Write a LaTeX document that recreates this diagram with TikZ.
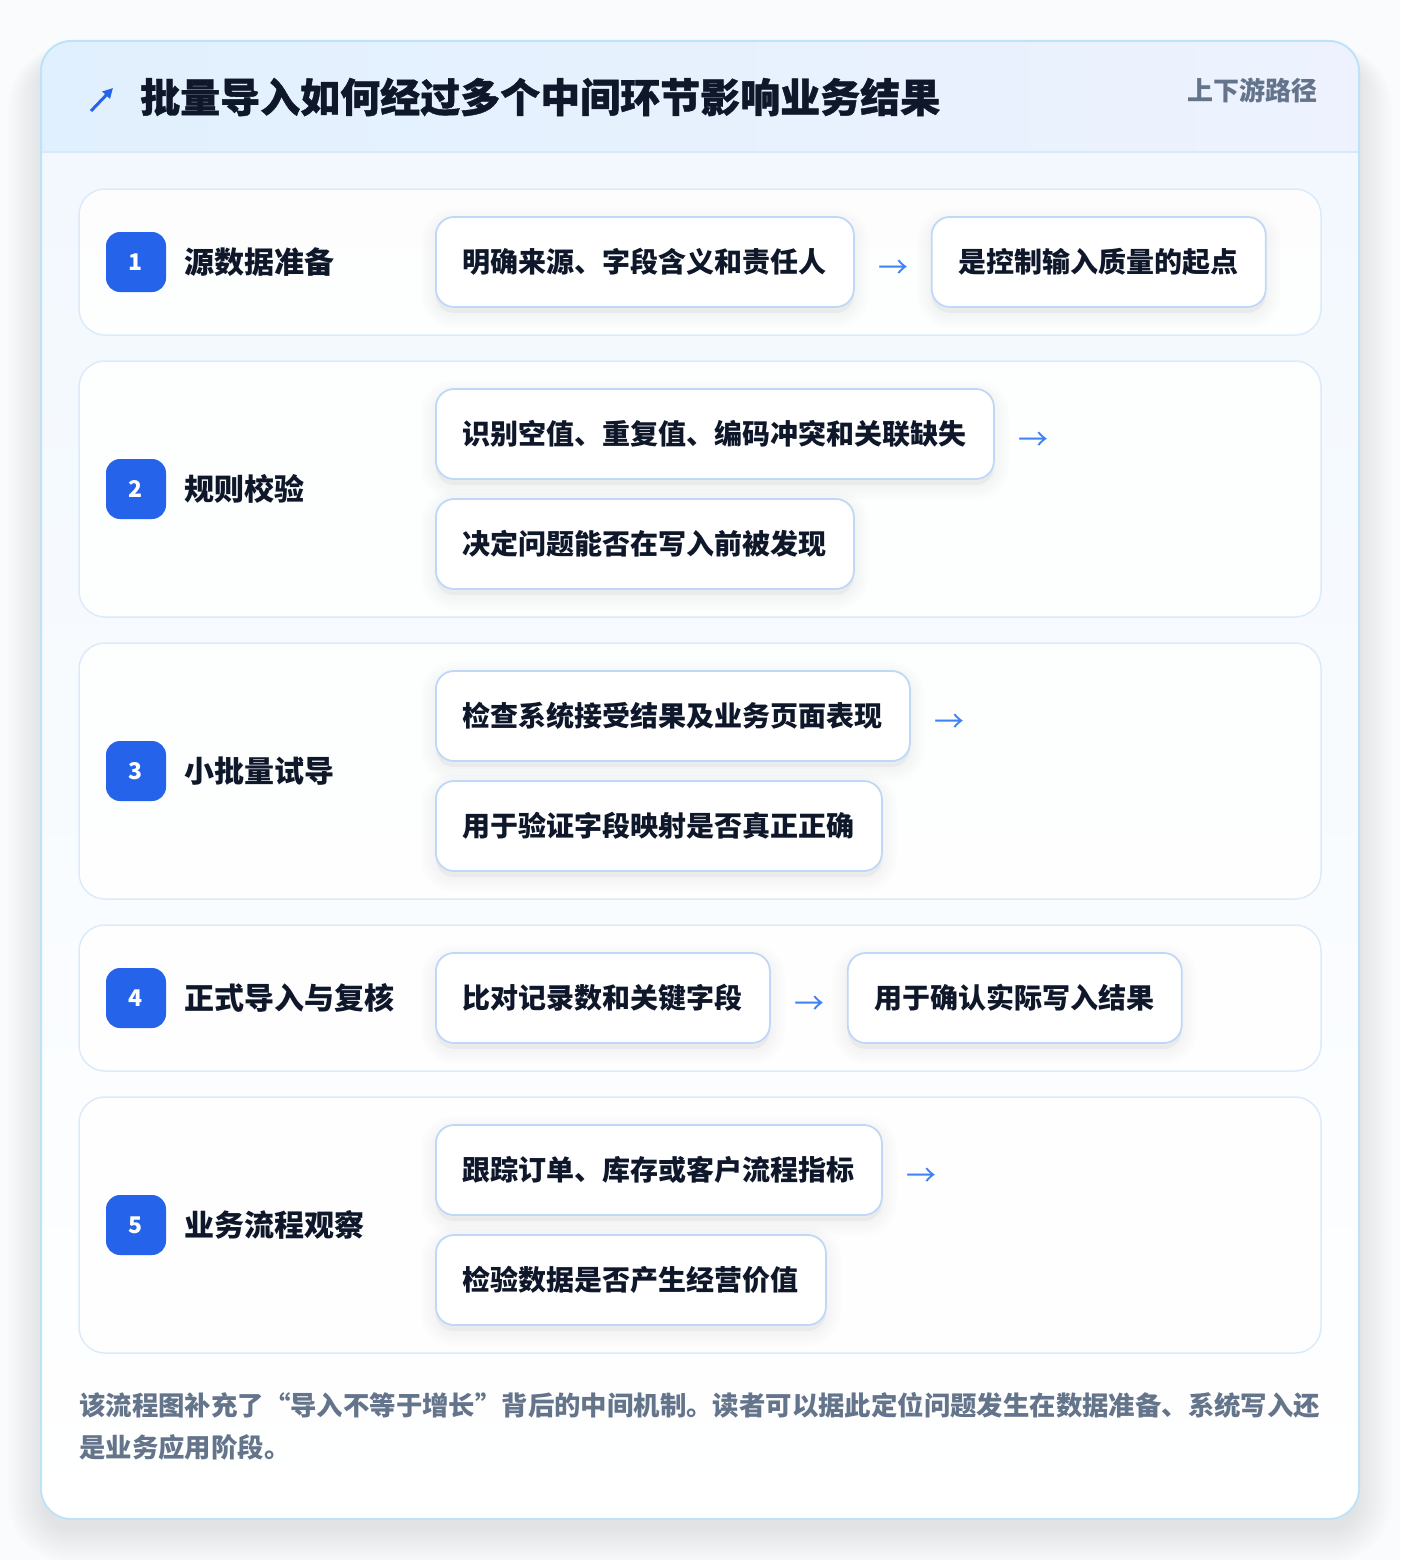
\documentclass[tikz,border=0pt]{standalone}
\usepackage{fontspec}
\setmainfont{Noto Sans CJK SC}
\usetikzlibrary{arrows.meta}
\definecolor{ink}{HTML}{0F172A}
\definecolor{muted}{HTML}{64748B}
\definecolor{badgeblue}{HTML}{2563EB}
\definecolor{arrowblue}{HTML}{3B82F6}
\definecolor{pillline}{HTML}{BFD8F7}
\definecolor{rowline}{HTML}{DCEBFA}
\definecolor{cardline}{HTML}{BEE3F8}
\definecolor{headL}{HTML}{E1F0FE}
\definecolor{headR}{HTML}{EDF2FE}
\definecolor{headline}{HTML}{D9E9FA}
\definecolor{bodytop}{HTML}{F2F8FE}
\definecolor{pagebg}{HTML}{FAFBFC}
\definecolor{shadowc}{HTML}{1E293B}
\tikzset{
  pshadow/.style={preaction={draw=shadowc, draw opacity=0.008, line width=#1, fill=shadowc, fill opacity=0.008, transform canvas={yshift=-6pt}}},
  rowbox/.style={draw=rowline, line width=1.5pt, fill=white, fill opacity=0.85, draw opacity=1, rounded corners=26pt, minimum width=1242pt, inner sep=0pt},
  pill/.style={pshadow=30pt, pshadow=24pt, pshadow=18pt, pshadow=12pt, pshadow=6pt, draw=pillline, line width=1.8pt, fill=white, rounded corners=18pt, anchor=west, inner xsep=27pt, inner ysep=0pt, minimum height=90pt, font=\fontsize{28}{34}\selectfont\bfseries, text=ink},
  badge/.style={fill=badgeblue, rounded corners=14pt, minimum size=60pt, inner sep=0pt, text=white, font=\fontsize{23}{28}\selectfont\bfseries},
  lbl/.style={anchor=west, inner sep=0pt, text=ink, font=\fontsize{30}{36}\selectfont\bfseries},
  arrowglyph/.style={inner sep=0pt, text=arrowblue, font=\fontsize{30}{36}\selectfont},
}
\begin{document}
\begin{tikzpicture}[x=1pt,y=1pt]
\useasboundingbox (0,0) rectangle (1400,-1560);
\fill[pagebg] (0,0) rectangle (1400,-1560);
% card shadow
\foreach \k in {0,...,11}{
  \fill[shadowc, opacity=0.0065, rounded corners={30pt+\k*3pt}] ({41-\k*3},{-56+\k*1}) rectangle ({1359+\k*3},{-1530-\k*3});
}
\fill[white, rounded corners=30pt] (41,-41) rectangle (1359,-1519);
\begin{scope}
  \clip[rounded corners=30pt] (41,-41) rectangle (1359,-1519);
  \shade[top color=bodytop, bottom color=white] (41,-152) rectangle (1359,-1519);
  \shade[left color=headL, right color=headR] (41,-41) rectangle (1359,-152);
  \draw[headline, line width=1.5pt] (41,-152) -- (1359,-152);
\end{scope}
\draw[cardline, line width=2pt, rounded corners=30pt] (41,-41) rectangle (1359,-1519);
% header
\coordinate (icona) at (91,-111);
\coordinate (iconb) at (113,-88);
\draw[badgeblue, line width=3pt, -{Triangle[length=10pt,width=10pt]}] (icona) -- (iconb);
\node[anchor=west, inner sep=0pt, text=ink, font=\fontsize{40}{46}\selectfont\bfseries\addfontfeature{FakeBold=1}] (title) at (140,-97) {批量导入如何经过多个中间环节影响业务结果};
\node[anchor=east, inner sep=0pt, text=muted, font=\fontsize{26}{30}\selectfont\bfseries] (tag) at (1318,-90) {上下游路径};
% row 1
\node[rowbox, minimum height=146pt] (r1) at (700,-262) {};
\node[badge] (b1) at (136,-262) {1};
\node[lbl] (l1) at (184,-262) {源数据准备};
\node[pill] (p11) at (435,-262) {明确来源、字段含义和责任人};
\node[arrowglyph] (a1) at ([xshift=39pt,yshift=-7pt]p11.east) {→};
\node[pill] (p12) at ([xshift=76pt]p11.east) {是控制输入质量的起点};
% row 2
\node[rowbox, minimum height=256pt] (r2) at (700,-489) {};
\node[badge] (b2) at (136,-489) {2};
\node[lbl] (l2) at (184,-489) {规则校验};
\node[pill] (p21) at (435,-434) {识别空值、重复值、编码冲突和关联缺失};
\node[arrowglyph] (a2) at ([xshift=39pt,yshift=-7pt]p21.east) {→};
\node[pill] (p22) at (435,-544) {决定问题能否在写入前被发现};
% row 3
\node[rowbox, minimum height=256pt] (r3) at (700,-771) {};
\node[badge] (b3) at (136,-771) {3};
\node[lbl] (l3) at (184,-771) {小批量试导};
\node[pill] (p31) at (435,-716) {检查系统接受结果及业务页面表现};
\node[arrowglyph] (a3) at ([xshift=39pt,yshift=-7pt]p31.east) {→};
\node[pill] (p32) at (435,-826) {用于验证字段映射是否真正正确};
% row 4
\node[rowbox, minimum height=146pt] (r4) at (700,-998) {};
\node[badge] (b4) at (136,-998) {4};
\node[lbl] (l4) at (184,-998) {正式导入与复核};
\node[pill] (p41) at (435,-998) {比对记录数和关键字段};
\node[arrowglyph] (a4) at ([xshift=39pt,yshift=-7pt]p41.east) {→};
\node[pill] (p42) at ([xshift=76pt]p41.east) {用于确认实际写入结果};
% row 5
\node[rowbox, minimum height=256pt] (r5) at (700,-1225) {};
\node[badge] (b5) at (136,-1225) {5};
\node[lbl] (l5) at (184,-1225) {业务流程观察};
\node[pill] (p51) at (435,-1170) {跟踪订单、库存或客户流程指标};
\node[arrowglyph] (a5) at ([xshift=39pt,yshift=-7pt]p51.east) {→};
\node[pill] (p52) at (435,-1280) {检验数据是否产生经营价值};
% footer
\node[anchor=base west, inner sep=0pt, align=left, text=muted, font=\fontsize{26.4}{42}\selectfont\bfseries] (foot) at (79,-1457) {该流程图补充了“导入不等于增长”背后的中间机制。读者可以据此定位问题发生在数据准备、系统写入还\\是业务应用阶段。};
\end{tikzpicture}
\end{document}
